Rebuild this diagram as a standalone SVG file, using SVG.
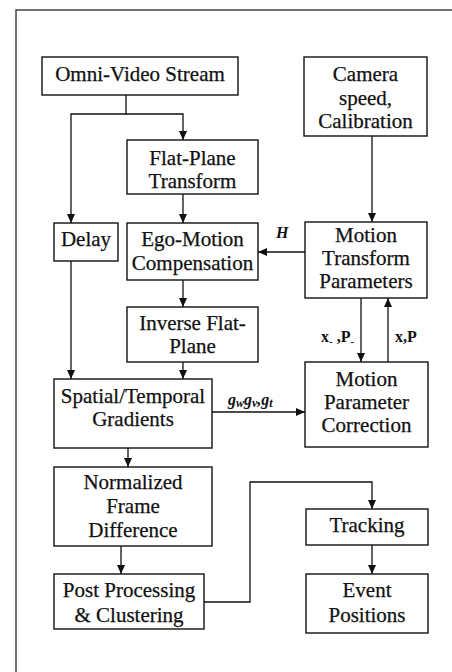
<svg xmlns="http://www.w3.org/2000/svg" width="452" height="672" viewBox="0 0 452 672">
<style>
.box{fill:#fff;stroke:#111;stroke-width:1.4}
.t{font-family:"Liberation Serif","Times New Roman",serif;font-size:21px;fill:#111;stroke:#111;stroke-width:0.25;text-anchor:middle}
.lbl{font-family:"Liberation Serif","Times New Roman",serif;font-size:16px;font-weight:bold;fill:#111}
.c{fill:none;stroke:#111;stroke-width:1.3}
.frame{fill:none;stroke:#444;stroke-width:1.5}
</style>
<defs>
<marker id="ah" markerUnits="userSpaceOnUse" markerWidth="9" markerHeight="8" refX="9" refY="4" orient="auto">
<path d="M0,0 L9,4 L0,8 z" fill="#111"/>
</marker>
</defs>
<rect width="452" height="672" fill="#fff"/>
<path class="frame" d="M16,672 V10 H452"/>

<g id="connectors">
<path class="c" d="M126,95 V114 H183 V140" marker-end="url(#ah)"/>
<path class="c" d="M126,114 H71 V223" marker-end="url(#ah)"/>
<path class="c" d="M183,194 V223" marker-end="url(#ah)"/>
<path class="c" d="M372,136 V222" marker-end="url(#ah)"/>
<path class="c" d="M305,252 H258" marker-end="url(#ah)"/>
<path class="c" d="M183,280 V307" marker-end="url(#ah)"/>
<path class="c" d="M71,261 V379" marker-end="url(#ah)"/>
<path class="c" d="M183,362 V379" marker-end="url(#ah)"/>
<path class="c" d="M212,412 H305" marker-end="url(#ah)"/>
<path class="c" d="M361,298 V362" marker-end="url(#ah)"/>
<path class="c" d="M388,362 V298" marker-end="url(#ah)"/>
<path class="c" d="M128,448 V467" marker-end="url(#ah)"/>
<path class="c" d="M121,546 V574" marker-end="url(#ah)"/>
<path class="c" d="M204,602 H250 V482 H372 V509" marker-end="url(#ah)"/>
<path class="c" d="M372,545 V574" marker-end="url(#ah)"/>
<text class="lbl" x="276" y="238" font-style="italic">H</text>
<text class="lbl" x="321" y="342">x<tspan font-size="11" dy="3">-</tspan><tspan dy="-3"> ,P</tspan><tspan font-size="11" dy="3">-</tspan></text>
<text class="lbl" x="395" y="342">x,P</text>
<text class="lbl" x="228" y="405" font-style="italic" font-size="18">g<tspan font-size="12" dy="2">w</tspan><tspan dy="-2">g</tspan><tspan font-size="12" dy="2">v</tspan><tspan dy="-2">,g</tspan><tspan font-size="12" dy="2">t</tspan></text>
</g>

<g id="omni"><rect class="box" x="42" y="57" width="196" height="38"/><text class="t" x="140" y="81">Omni-Video Stream</text></g>
<g id="camera"><rect class="box" x="304" y="57" width="123" height="79"/><text class="t" x="365.5" y="81">Camera</text><text class="t" x="365.5" y="104.5">speed,</text><text class="t" x="365.5" y="128">Calibration</text></g>
<g id="flatplane"><rect class="box" x="127" y="140" width="131" height="54"/><text class="t" x="192.5" y="165">Flat-Plane</text><text class="t" x="192.5" y="188">Transform</text></g>
<g id="delay"><rect class="box" x="54" y="223" width="64" height="38"/><text class="t" x="86" y="246">Delay</text></g>
<g id="ego"><rect class="box" x="127" y="223" width="131" height="57"/><text class="t" x="192.5" y="246">Ego-Motion</text><text class="t" x="192.5" y="270">Compensation</text></g>
<g id="mtp"><rect class="box" x="305" y="222" width="122" height="76"/><text class="t" x="366" y="242">Motion</text><text class="t" x="366" y="265">Transform</text><text class="t" x="366" y="288">Parameters</text></g>
<g id="inverse"><rect class="box" x="127" y="307" width="131" height="55"/><text class="t" x="192.5" y="330">Inverse Flat-</text><text class="t" x="192.5" y="353">Plane</text></g>
<g id="spatial"><rect class="box" x="54" y="379" width="158" height="69"/><text class="t" x="133" y="403">Spatial/Temporal</text><text class="t" x="133" y="426">Gradients</text></g>
<g id="mpc"><rect class="box" x="305" y="362" width="123" height="85"/><text class="t" x="366.5" y="386">Motion</text><text class="t" x="366.5" y="409">Parameter</text><text class="t" x="366.5" y="432">Correction</text></g>
<g id="normalized"><rect class="box" x="54" y="467" width="158" height="79"/><text class="t" x="133" y="489">Normalized</text><text class="t" x="133" y="513">Frame</text><text class="t" x="133" y="537">Difference</text></g>
<g id="post"><rect class="box" x="54" y="574" width="150" height="55"/><text class="t" x="129" y="597">Post Processing</text><text class="t" x="129" y="622">&amp; Clustering</text></g>
<g id="tracking"><rect class="box" x="306" y="509" width="122" height="36"/><text class="t" x="367" y="532">Tracking</text></g>
<g id="event"><rect class="box" x="306" y="574" width="122" height="59"/><text class="t" x="367" y="597">Event</text><text class="t" x="367" y="622">Positions</text></g>
</svg>
